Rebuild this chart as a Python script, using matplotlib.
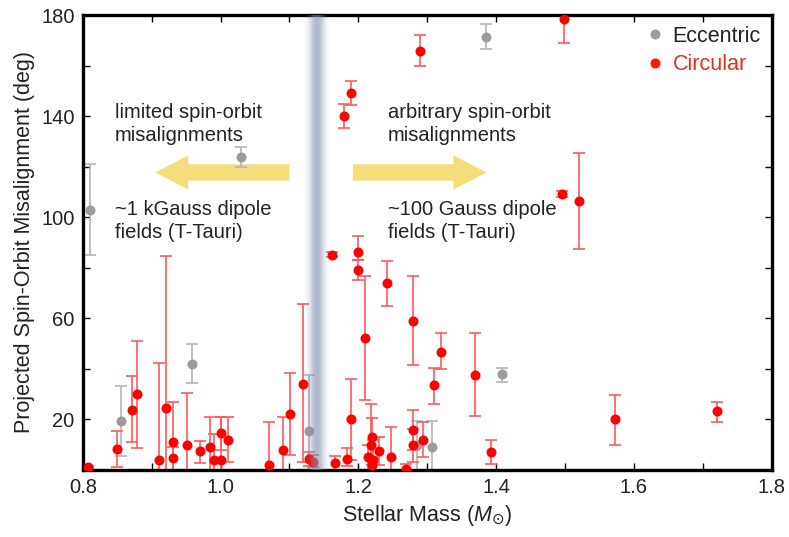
import numpy as np
import matplotlib
matplotlib.use("Agg")
import matplotlib.pyplot as plt
from matplotlib.lines import Line2D
from matplotlib.patches import FancyArrow

plt.rcParams['font.family'] = ['Liberation Sans', 'DejaVu Sans']
plt.rcParams['mathtext.fontset'] = 'custom'
plt.rcParams['mathtext.it'] = 'Liberation Sans:italic'

# eccentric systems: mass, misalignment, lower / upper bound of error bar
ecc_mass = [0.810, 0.856, 0.958, 1.029, 1.129, 1.285, 1.307, 1.385, 1.409]
ecc_deg = [103.0, 19.3, 42.0, 123.9, 15.5, 10.0, 9.2, 171.3, 38.1]
ecc_lo = [85.2, 5.4, 34.2, 119.8, -5, -5, -5, 166.4, 34.8]
ecc_hi = [121.2, 33.2, 50.0, 127.6, 37.4, 19.5, 19.3, 176.4, 40.4]

# circular systems
circ_mass = [0.807, 0.850, 0.871, 0.878, 0.910, 0.921, 0.931, 0.931, 0.951,
             0.970, 0.984, 0.990, 1.000, 1.000, 1.011, 1.070, 1.090, 1.101,
             1.119, 1.129, 1.134, 1.161, 1.166, 1.179, 1.184, 1.190, 1.190,
             1.200, 1.200, 1.209, 1.214, 1.218, 1.220, 1.221, 1.220, 1.230,
             1.241, 1.248, 1.269, 1.280, 1.280, 1.280, 1.290, 1.294, 1.310,
             1.320, 1.370, 1.392, 1.495, 1.499, 1.520, 1.573, 1.720]
circ_deg = [1.0, 8.4, 23.8, 30.1, 4.1, 24.3, 11.1, 4.7, 9.9,
            7.3, 8.9, 4.1, 14.6, 4.1, 12.0, 1.8, 7.8, 22.2,
            34.0, 4.4, 3.3, 85.2, 2.8, 140.2, 4.5, 20.0, 149.2,
            86.2, 79.2, 52.0, 5.1, 10.0, 13.1, 4.1, 1.8, 7.4,
            73.9, 5.1, 0.3, 15.7, 9.7, 59.0, 165.7, 12.0, 33.5,
            46.7, 37.5, 7.1, 109.2, 178.4, 106.5, 20.2, 23.3]
circ_lo = [0.5, 1.3, 11.1, 8.7, -5, -5, -5, -5, -5,
           2.6, -5, -5, 7.7, -5, 3.1, -5, -5, 6.0,
           3.1, 1.5, 1.0, 84.2, -5, 135.4, 1.4, 4.1, 144.3,
           83.2, 75.1, 27.5, -5, -5, 2.1, -5, -5, 1.8,
           64.9, -5, -5, 8.0, 3.0, 41.4, 159.9, 5.0, 25.9,
           39.8, 21.5, 2.4, 108.0, 168.8, 87.3, 10.0, 19.0]
circ_hi = [1.5, 15.3, 37.1, 51.0, 42.4, 84.8, 26.8, 9.0, 30.4,
           11.6, 20.9, 14.1, 20.9, 20.9, 20.9, 19.0, 20.9, 38.2,
           65.6, 7.0, 6.0, 86.2, 5.4, 144.7, 8.7, 36.1, 153.9,
           92.4, 83.2, 76.6, 10.0, 25.9, 20.5, 12.0, 5.0, 12.9,
           82.8, 16.9, 2.3, 23.7, 16.0, 76.6, 172.1, 18.9, 40.4,
           54.1, 54.1, 12.0, 110.4, 185.0, 125.5, 29.6, 27.0]

band_center = 1.140
arrow_y = 117.7

fig = plt.figure(figsize=(7.89, 5.37), dpi=100)
ax = fig.add_axes([0.105, 0.125, 0.873, 0.847])

def draw(mass, deg, lo, hi, col, ecol):
    mass = np.array(mass); deg = np.array(deg)
    yerr = [deg - np.array(lo), np.array(hi) - deg]
    ax.errorbar(mass, deg, yerr=yerr, fmt='none', ecolor=ecol, elinewidth=1.2,
                capsize=4.5, capthick=1.2, zorder=2)
    ax.plot(mass, deg, 'o', color=col, markersize=7.2, markeredgewidth=0, zorder=3)

draw(ecc_mass, ecc_deg, ecc_lo, ecc_hi, '#9c9c9c', '#b4b4b4')
draw(circ_mass, circ_deg, circ_lo, circ_hi, '#ff0000', '#ff5a5a')

# blurred vertical band (semi-transparent, drawn over the points)
xs = np.linspace(band_center - 0.03, band_center + 0.03, 300)
alpha = 0.62 * np.exp(-np.abs((xs - band_center) / 0.0105) ** 2.2)
img = np.zeros((2, xs.size, 4))
img[..., 0] = 0.50
img[..., 1] = 0.55
img[..., 2] = 0.68
img[..., 3] = alpha
ax.imshow(img, extent=[xs[0], xs[-1], 0, 180], aspect='auto', zorder=4,
          interpolation='bilinear')

# arrows
acol = '#f7dc7c'
ax.add_patch(FancyArrow(1.100, arrow_y, -0.195, 0, width=6.5, head_width=13.5,
                        head_length=0.048, length_includes_head=True,
                        color=acol, lw=0, zorder=1))
ax.add_patch(FancyArrow(1.192, arrow_y, 0.194, 0, width=6.5, head_width=13.5,
                        head_length=0.048, length_includes_head=True,
                        color=acol, lw=0, zorder=1))

tk = dict(fontsize=14.5, color='#222222', va='center', ha='left', linespacing=1.25)
ax.text(0.846, 137, 'limited spin-orbit\nmisalignments', **tk)
ax.text(1.243, 137, 'arbitrary spin-orbit\nmisalignments', **tk)
ax.text(0.846, 98.5, '~1 kGauss dipole\nfields (T-Tauri)', **tk)
ax.text(1.243, 98.5, '~100 Gauss dipole\nfields (T-Tauri)', **tk)

ax.set_xlim(0.8, 1.8)
ax.set_ylim(0, 180)
ax.set_xticks(np.arange(0.8, 1.81, 0.1))
ax.set_xticklabels(['0.8', '', '1.0', '', '1.2', '', '1.4', '', '1.6', '', '1.8'])
ax.set_yticks(np.arange(0, 181, 20))
ax.set_yticklabels(['', '20', '', '60', '', '100', '', '140', '', '180'])
ax.tick_params(direction='in', length=5, width=1, top=True, right=True,
               labelsize=14.5, labelcolor='#222222', pad=6)
for s in ax.spines.values():
    s.set_linewidth(2.4)

ax.set_xlabel(r'Stellar Mass ($M_{\odot}$)', fontsize=15.5, color='#222222', labelpad=4)
ax.set_ylabel('Projected Spin-Orbit Misalignment (deg)', fontsize=15.5,
              color='#222222', labelpad=4)

handles = [Line2D([], [], marker='o', ls='none', color='#9c9c9c', markersize=7.2, mew=0),
           Line2D([], [], marker='o', ls='none', color='#ff1a00', markersize=7.2, mew=0)]
leg = ax.legend(handles, ['Eccentric', 'Circular'], loc='upper right', frameon=False,
                fontsize=15.5, handletextpad=0.2, handlelength=1.2,
                borderaxespad=0.1, labelspacing=0.35)
leg.get_texts()[1].set_color('#e0301e')
leg.get_texts()[0].set_color('#222222')

fig.savefig('out.png', dpi=100)
